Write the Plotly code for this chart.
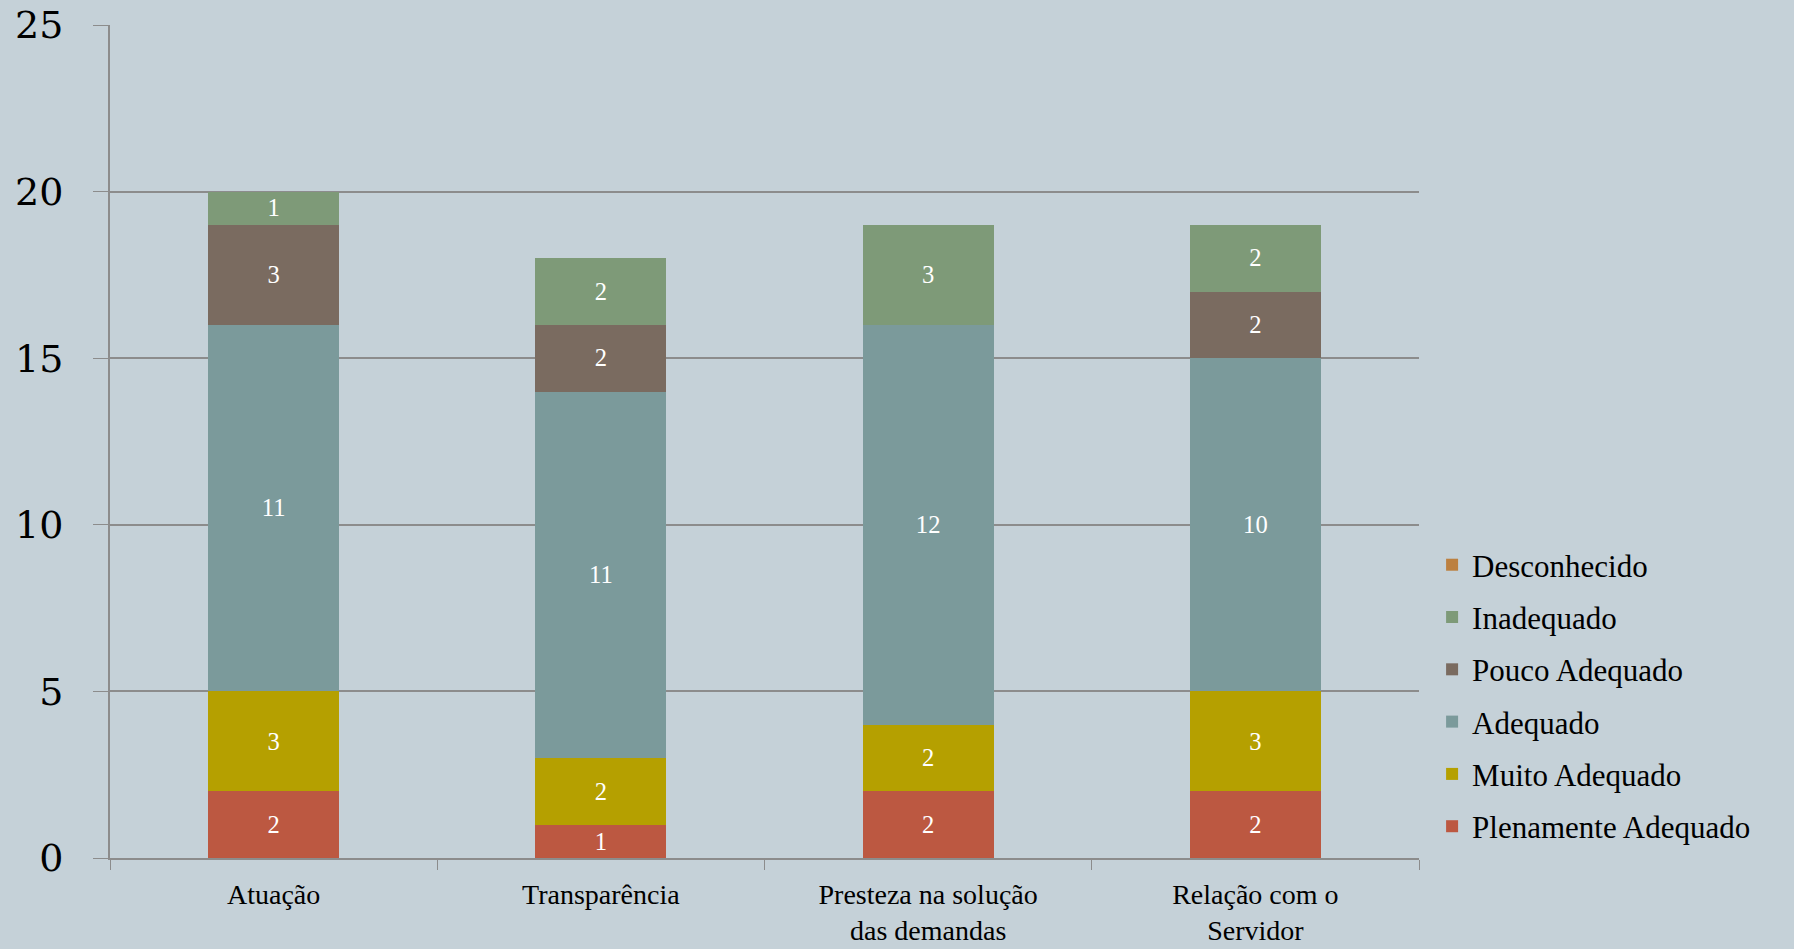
import plotly.graph_objects as go

categories = ["Atuação", "Transparência", "Presteza na solução<br>das demandas", "Relação com o<br>Servidor"]
plenamente = [2, 1, 2, 2]
muito = [3, 2, 2, 3]
adequado = [11, 11, 12, 10]
pouco = [3, 2, 0, 2]
inadequado = [1, 2, 3, 2]
desconhecido = [0, 0, 0, 0]

series = [
    ("Plenamente Adequado", plenamente, "#BC5841"),
    ("Muito Adequado", muito, "#B5A000"),
    ("Adequado", adequado, "#7B9A9B"),
    ("Pouco Adequado", pouco, "#7A6B60"),
    ("Inadequado", inadequado, "#7E9A78"),
    ("Desconhecido", desconhecido, "#BC8040"),
]

fig = go.Figure()
n = len(series)
for i, (name, vals, color) in enumerate(series):
    fig.add_trace(go.Bar(
        x=categories, y=vals, name=name, legendgroup=name,
        legendrank=1000 + (n - i),
        marker=dict(color=color, line=dict(width=0)),
        text=[str(v) if v else "" for v in vals],
        textposition="inside", insidetextanchor="middle", textangle=0,
        textfont=dict(family="Liberation Serif, serif", size=27, color="white"),
    ))

fig.update_layout(
    barmode="stack", bargap=0.6,
    width=1794, height=949,
    paper_bgcolor="#C5D1D8", plot_bgcolor="#C5D1D8",
    margin=dict(l=110, r=375, t=25, b=91, autoexpand=False),
    font=dict(family="Liberation Serif, serif", color="black"),
    uniformtext=dict(minsize=8, mode="show"),
    legend=dict(
        traceorder="grouped", x=1.01, xanchor="left", y=0.195, yanchor="middle",
        font=dict(size=31, family="Liberation Serif, serif"),
        itemwidth=30, tracegroupgap=9, bgcolor="rgba(0,0,0,0)",
    ),
    showlegend=True,
)
fig.update_xaxes(
    showline=True, linecolor="#8C8C8C", linewidth=2,
    ticks="outside", tickson="boundaries", ticklen=10, tickcolor="#8C8C8C",
    tickfont=dict(size=28, family="Liberation Serif, serif"),
    ticklabelstandoff=10,
    showgrid=False,
)
fig.update_yaxes(
    range=[0, 25], dtick=5,
    showline=True, linecolor="#8C8C8C", linewidth=2,
    ticks="outside", ticklen=15, tickcolor="#8C8C8C",
    showgrid=True, gridcolor="#8C8C8C", gridwidth=1.5,
    zeroline=False, ticklabelstandoff=22,
    tickfont=dict(size=38, family="DejaVu Serif, serif"),
)

fig.write_html("out.html", config={"displayModeBar": False})
with open("out.html", "r", encoding="utf-8") as f:
    html = f.read()
html = html.replace("<head>", "<head><style>html,body{margin:0;padding:0;overflow:hidden;}</style>", 1)
with open("out.html", "w", encoding="utf-8") as f:
    f.write(html)
